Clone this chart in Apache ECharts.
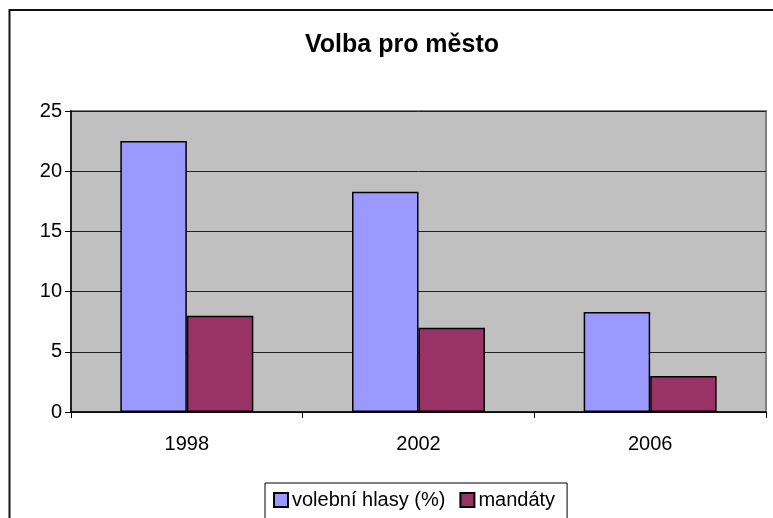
<!DOCTYPE html>
<html>
<head>
<meta charset="utf-8">
<script src="https://cdn.jsdelivr.net/npm/echarts@6/dist/echarts.min.js"></script>
<style>
  html, body { margin: 0; padding: 0; background: #fff; }
  #main { width: 773px; height: 518px; }
</style>
</head>
<body>
<div id="main"></div>
<script>
// data
const years = ['1998', '2002', '2006'];
const hlasy = [22.5, 18.3, 8.3];     // volební hlasy (%)
const mandaty = [8, 7, 3];           // mandáty

const chart = echarts.init(document.getElementById('main'));
const font = 'Liberation Sans, Arial, sans-serif';

chart.setOption({
    backgroundColor: '#ffffff',
    animation: false,
    textStyle: { fontFamily: font },
    title: {
        text: 'Volba pro město',
        left: 397,
        textAlign: 'center',
        top: 28,
        textStyle: { fontSize: 25, fontWeight: 'bold', color: '#000', fontFamily: font }
    },
    // outer chart frame (cropped on right/bottom)
    graphic: [{
        type: 'rect',
        shape: { x: 9.5, y: 10, width: 800, height: 600 },
        style: { fill: 'none', stroke: '#111', lineWidth: 2 },
        silent: true, z: -1
    }],
    legend: {
        left: 265,
        top: 483,
        itemWidth: 14,
        itemHeight: 14,
        itemGap: 14,
        padding: [7, 12, 10, 8],
        borderColor: '#000',
        borderWidth: 1,
        icon: 'rect',
        textStyle: { fontSize: 20, color: '#000', fontFamily: font, padding: [0, 0, 0, -1] },
        data: ['volební hlasy (%)', 'mandáty']
    },
    grid: {
        left: 71, right: 7, top: 111, bottom: 106,
        show: true,
        backgroundColor: '#C0C0C0',
        borderColor: '#808080',
        borderWidth: 2
    },
    xAxis: {
        type: 'category',
        data: years,
        axisLine: { show: true, lineStyle: { color: '#000', width: 1.5 } },
        axisTick: { show: true, length: 6, lineStyle: { color: '#000' } },
        axisLabel: { fontSize: 20, color: '#000', margin: 22, fontFamily: font }
    },
    yAxis: {
        type: 'value',
        min: 0, max: 25, interval: 5,
        axisLine: { show: true, lineStyle: { color: '#000', width: 1.5 } },
        axisTick: { show: true, length: 6, lineStyle: { color: '#000' } },
        axisLabel: { fontSize: 20, color: '#000', margin: 9, fontFamily: font },
        splitLine: { show: true, lineStyle: { color: '#222', width: 1 } }
    },
    series: [{
        name: 'volební hlasy (%)',
        type: 'bar',
        data: hlasy,
        barGap: '0%',
        barCategoryGap: '42.6%',
        itemStyle: { color: '#9999FF', borderColor: '#000', borderWidth: 1.5 }
    }, {
        name: 'mandáty',
        type: 'bar',
        data: mandaty,
        itemStyle: { color: '#993366', borderColor: '#000', borderWidth: 1.5 }
    }]
});
</script>
</body>
</html>
